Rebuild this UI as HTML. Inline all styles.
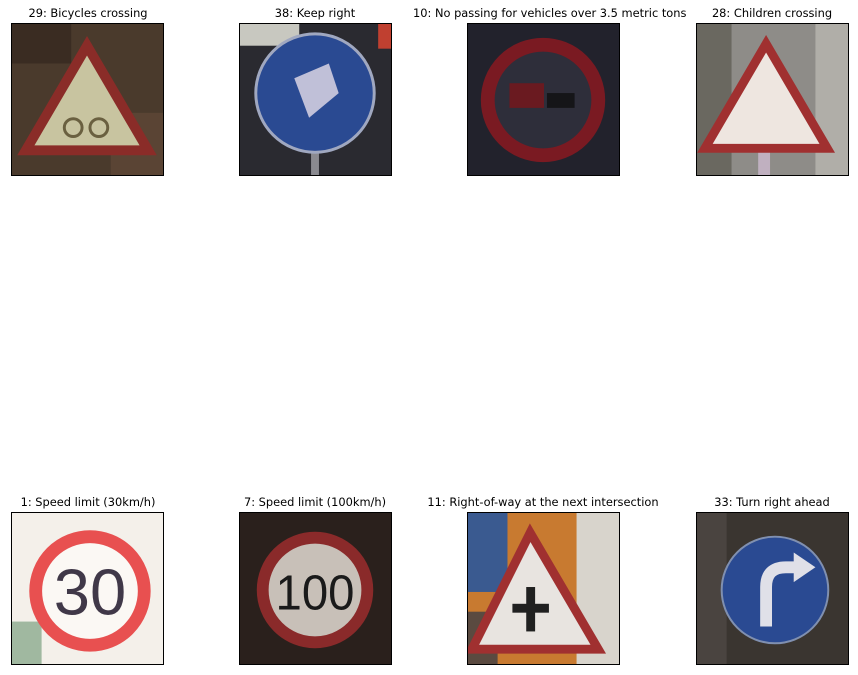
<!DOCTYPE html>
<html><head><meta charset="utf-8"><style>
body{margin:0;background:#fff;width:858px;height:675px;position:relative;overflow:hidden;font-family:"DejaVu Sans","Liberation Sans",sans-serif}
.t{position:absolute;font-size:11.4px;color:#000;text-align:center;width:260px;white-space:nowrap}
svg.p{position:absolute;width:153px;height:153px;border:1px solid #000;box-sizing:border-box}
</style></head><body>
<div class="t" style="left:-42px;top:6px">29: Bicycles crossing</div>
<div class="t" style="left:185px;top:6px">38: Keep right</div>
<div class="t" style="left:413px;top:6px">10: No passing for vehicles over 3.5 metric tons</div>
<div class="t" style="left:642px;top:6px">28: Children crossing</div>
<div class="t" style="left:-42px;top:495px">1: Speed limit (30km/h)</div>
<div class="t" style="left:185px;top:495px">7: Speed limit (100km/h)</div>
<div class="t" style="left:413px;top:495px">11: Right-of-way at the next intersection</div>
<div class="t" style="left:642px;top:495px">33: Turn right ahead</div>

<svg class="p" style="left:11px;top:23px" viewBox="0 0 153 153">
<rect width="153" height="153" fill="#4a3a2c"/><rect x="0" y="0" width="60" height="40" fill="#3a2c22"/><rect x="100" y="90" width="53" height="63" fill="#5a4434"/>
<polygon points="76,22 138,128 14,128" fill="#c8c4a0" stroke="#8a2c28" stroke-width="10"/>
<circle cx="62" cy="105" r="9" fill="none" stroke="#6a6040" stroke-width="3"/><circle cx="88" cy="105" r="9" fill="none" stroke="#6a6040" stroke-width="3"/></svg>

<svg class="p" style="left:239px;top:23px" viewBox="0 0 153 153">
<rect width="153" height="153" fill="#2a2a30"/><rect x="0" y="0" width="60" height="22" fill="#c8c8c0"/><rect x="140" y="0" width="13" height="25" fill="#c04030"/>
<rect x="72" y="125" width="8" height="28" fill="#8a8a90"/>
<circle cx="76" cy="70" r="60" fill="#2a4a92" stroke="#a0a8c0" stroke-width="3"/>
<polygon points="55,55 90,40 100,70 70,95" fill="#c0c0d8"/></svg>

<svg class="p" style="left:467px;top:23px" viewBox="0 0 153 153">
<rect width="153" height="153" fill="#22222c"/>
<circle cx="76" cy="77" r="56" fill="#2e2e3a" stroke="#7a1a22" stroke-width="14"/>
<rect x="42" y="60" width="35" height="25" fill="#6a1a20"/><rect x="80" y="70" width="28" height="15" fill="#151518"/></svg>

<svg class="p" style="left:696px;top:23px" viewBox="0 0 153 153">
<rect width="153" height="153" fill="#8e8c88"/><rect x="0" y="0" width="35" height="153" fill="#6a6860"/><rect x="120" y="0" width="33" height="153" fill="#b0aea8"/>
<rect x="62" y="125" width="12" height="28" fill="#c0b0c0"/>
<polygon points="70,20 132,126 8,126" fill="#eee6e0" stroke="#a03030" stroke-width="9"/></svg>

<svg class="p" style="left:11px;top:512px" viewBox="0 0 153 153">
<rect width="153" height="153" fill="#f4f0ea"/><rect x="0" y="110" width="30" height="43" fill="#a0b8a0"/>
<circle cx="79" cy="79" r="55" fill="#fbf8f4" stroke="#e85050" stroke-width="13"/>
<text x="79" y="103" font-family="Liberation Sans,sans-serif" font-size="66" text-anchor="middle" fill="#403848">30</text></svg>

<svg class="p" style="left:239px;top:512px" viewBox="0 0 153 153">
<rect width="153" height="153" fill="#2a201c"/>
<circle cx="76" cy="78" r="53" fill="#c8c0b8" stroke="#8a2a2a" stroke-width="12"/>
<text x="76" y="98" font-family="Liberation Sans,sans-serif" font-size="50" text-anchor="middle" fill="#1a1a1a" textLength="80" lengthAdjust="spacingAndGlyphs">100</text></svg>

<svg class="p" style="left:467px;top:512px" viewBox="0 0 153 153">
<rect width="153" height="153" fill="#c87a30"/><rect x="0" y="0" width="40" height="80" fill="#3a5a90"/><rect x="110" y="0" width="43" height="153" fill="#d8d4cc"/><rect x="0" y="100" width="30" height="53" fill="#5a4a40"/>
<polygon points="63,20 132,138 4,138" fill="#e8e4e0" stroke="#a03030" stroke-width="9"/>
<rect x="59" y="75" width="9" height="45" fill="#202020"/><rect x="45" y="92" width="37" height="9" fill="#202020"/></svg>

<svg class="p" style="left:696px;top:512px" viewBox="0 0 153 153">
<rect width="153" height="153" fill="#3a3530"/><rect x="0" y="0" width="30" height="153" fill="#4a4440"/>
<circle cx="79" cy="78" r="54" fill="#2a4a92" stroke="#8090b0" stroke-width="2"/>
<path d="M70 115 V75 Q70 55 90 55 H100" fill="none" stroke="#e0e0e8" stroke-width="12"/><polygon points="98,40 120,55 98,70" fill="#e0e0e8"/></svg>
</body></html>
